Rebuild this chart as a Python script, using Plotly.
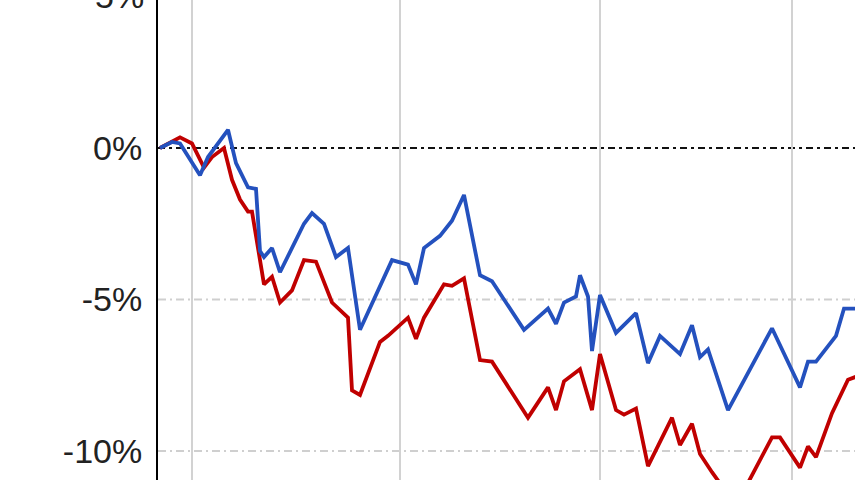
import plotly.graph_objects as go

# Trading-day index and cumulative returns (%)
blue_days = [0, 3, 5, 10, 12, 17, 19, 22, 24, 25, 26, 28, 30, 33, 36, 38, 41, 44, 47, 50,
             55, 58, 62, 64, 66, 70, 73, 76, 80, 83, 91, 97, 99, 101, 104, 105, 107, 108, 110,
             114, 119, 122, 125, 130, 133, 135, 137, 142, 153, 160, 162, 164, 169, 171, 174]
blue_vals = [0.0, 0.2, 0.15, -0.9, -0.3, 0.6, -0.5, -1.3, -1.35, -3.4, -3.6, -3.3, -4.1, -3.3,
             -2.5, -2.15, -2.5, -3.6, -3.3, -6.0, -4.6, -3.7, -3.85, -4.5, -3.3, -2.9, -2.4, -1.55,
             -4.2, -4.4, -6.0, -5.3, -5.8, -5.1, -4.9, -4.2, -4.9, -6.7, -4.85, -6.1, -5.45, -7.1,
             -6.2, -6.8, -5.85, -6.9, -6.65, -8.65, -5.95, -7.9, -7.05, -7.05, -6.2, -5.3, -5.3]

red_days = [0, 5, 8, 11, 13, 16, 18, 20, 22, 23, 26, 28, 30, 33, 36, 39, 43, 47, 48, 50,
            55, 57, 62, 64, 66, 71, 73, 76, 80, 83, 92, 97, 99, 101, 105, 108, 110, 114, 116,
            119, 122, 128, 130, 133, 135, 138, 144, 153, 155, 160, 162, 164, 168, 172, 174]
red_vals = [0.0, 0.35, 0.15, -0.65, -0.3, 0.0, -1.05, -1.7, -2.1, -2.1, -4.5, -4.25, -5.1, -4.7,
            -3.7, -3.75, -5.1, -5.6, -8.0, -8.15, -6.4, -6.2, -5.6, -6.3, -5.6, -4.5, -4.55, -4.3,
            -7.0, -7.05, -8.9, -7.9, -8.65, -7.7, -7.3, -8.65, -6.8, -8.65, -8.8, -8.6, -10.5,
            -8.9, -9.8, -9.1, -10.1, -10.7, -11.8, -9.55, -9.55, -10.55, -9.85, -10.2, -8.75,
            -7.65, -7.55]

month_lines = [8, 60, 110, 158]
y_ticks = [-10, -5, 0]
y_labels = ["-10%", "-5%", "0%"]
y_grid = [-10, -5]
top_tick = 5
top_label = "5%"

Y_MIN, Y_MAX = -10.957, 4.884
BLUE = "#2451BE"
RED = "#C00000"
FONT = "Liberation Sans, Arial, sans-serif"
FSIZE = 34

fig = go.Figure()
fig.add_trace(go.Scatter(x=red_days, y=red_vals, mode="lines",
                         line=dict(color=RED, width=3.8), hoverinfo="skip"))
fig.add_trace(go.Scatter(x=blue_days, y=blue_vals, mode="lines",
                         line=dict(color=BLUE, width=3.8), hoverinfo="skip"))

# dotted horizontal grid lines
for gy in y_grid:
    fig.add_shape(type="line", xref="paper", yref="y", x0=0, x1=1, y0=gy, y1=gy,
                  line=dict(color="#cfcfcf", width=2, dash="8px,4px,2px,4px"),
                  layer="below")
# zero reference line
fig.add_shape(type="line", xref="paper", yref="y", x0=0, x1=1, y0=0, y1=0,
              line=dict(color="#111111", width=2, dash="7px,4px,3px,4px"),
              layer="below")

# partially visible tick label above the plot area
fig.add_annotation(xref="paper", yref="paper", x=0,
                   y=(top_tick - Y_MIN) / (Y_MAX - Y_MIN), text=top_label,
                   showarrow=False, xanchor="right", yanchor="middle", xshift=-12,
                   font=dict(family=FONT, size=FSIZE, color="#222222"))

fig.update_layout(
    width=855, height=480,
    margin=dict(l=158, r=0, t=0, b=0),
    paper_bgcolor="white", plot_bgcolor="white",
    showlegend=False,
    font=dict(family=FONT, size=FSIZE, color="#222222"),
    xaxis=dict(range=[-0.5, 173.75], tickvals=month_lines, showticklabels=False,
               showgrid=True, gridcolor="#d2d2d2", gridwidth=2,
               zeroline=False, showline=False, ticks=""),
    yaxis=dict(range=[Y_MIN, Y_MAX], tickvals=y_ticks, ticktext=y_labels,
               showgrid=False,
               zeroline=False, showline=True, linecolor="#000000", linewidth=2,
               ticks="", ticklabelstandoff=7),
)

fig.write_html("out.html", config={"displayModeBar": False},
               post_script="document.body.style.margin='0';document.body.style.overflow='hidden';")
